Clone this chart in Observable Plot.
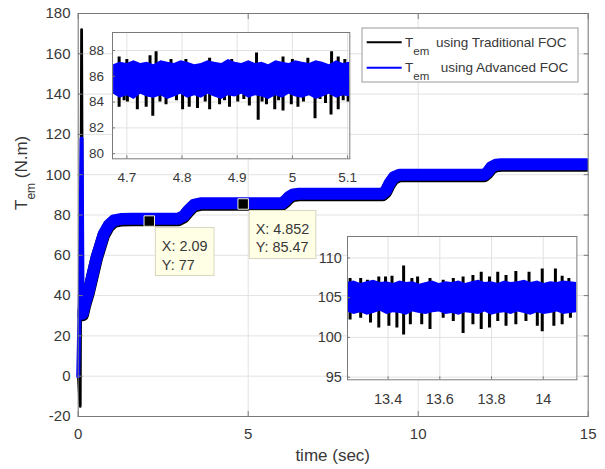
<!DOCTYPE html>
<html><head><meta charset="utf-8">
<script src="https://cdn.jsdelivr.net/npm/d3@7"></script>
<script src="https://cdn.jsdelivr.net/npm/@observablehq/plot@0.6"></script>
<style>
html,body{margin:0;padding:0;background:#fff;}
#wrap{position:relative;width:605px;height:469px;overflow:hidden;background:#fff;}
#wrap svg{position:absolute;}
</style></head><body><div id="wrap"></div>
<script>
// ---------- data ----------
const mainXTicks = [0, 5, 10, 15];
const mainYTicks = [-20, 0, 20, 40, 60, 80, 100, 120, 140, 160, 180];

// start-up transient
const tradStartT = [0, 0.06, 0.10, 0.13];
const tradStartV = [0, -15, 172, 31];
const advStartT  = [0, 0.05, 0.10, 0.13];
const advStartV  = [0, 40, 118, 31];

// torque trace after the transient (band centre)
const bodyT = [0.13, 0.2, 0.31, 0.54, 0.75, 0.9, 1.05, 1.25, 1.6, 2.95, 3.1, 3.25, 3.4, 3.6, 6.0, 6.1, 6.2, 6.32, 6.5, 8.95, 9.05, 9.15, 9.28, 9.45, 11.95, 12.05, 12.15, 12.28, 12.45, 15];
const tradBodyV = [30.4, 35.4, 41.7, 58.3, 69.9, 74.4, 76.7, 77.4, 77.6, 77.6, 78.9, 81.9, 84.4, 85.2, 85.2, 86.6, 88.4, 89.6, 89.9, 89.9, 91.4, 94.9, 98.1, 99.4, 99.4, 100.9, 103.2, 104.3, 104.6, 104.6];
const advBodyV  = [31, 36, 42.3, 58.9, 70.5, 75, 77.3, 78, 78.2, 78.2, 79.5, 82.5, 85, 85.8, 85.8, 87.2, 89, 90.2, 90.5, 90.5, 92, 95.5, 98.7, 100, 100, 101.5, 103.8, 104.9, 105.2, 105.2];

// data tips
const tipX = [2.09, 4.852];
const tipY = [77, 85.47];

// legend
const legendNames = ["using Traditional FOC", "using Advanced FOC"];

// inset 1 (4.67 .. 5.10 s)
const in1XTicks = [4.7, 4.8, 4.9, 5, 5.1];
const in1YTicks = [80, 82, 84, 86, 88];
const in1T = [4.676, 4.688, 4.700, 4.713, 4.725, 4.737, 4.749, 4.762, 4.774, 4.786, 4.798, 4.810, 4.823, 4.835, 4.847, 4.859, 4.872, 4.884, 4.896, 4.908, 4.921, 4.933, 4.945, 4.957, 4.970, 4.982, 4.994, 5.006, 5.018, 5.031, 5.043, 5.055, 5.067, 5.080, 5.092, 5.104];
const in1AdvHi = [86.9, 87.1, 87.0, 87.2, 87.0, 87.1, 86.9, 87.2, 87.1, 87.0, 87.2, 87.1, 86.9, 87.0, 87.2, 87.1, 87.0, 87.3, 87.1, 87.0, 87.2, 87.0, 87.1, 86.9, 87.2, 87.1, 87.0, 87.2, 87.1, 87.0, 87.2, 87.1, 86.9, 87.2, 87.0, 87.1];
const in1AdvLo = [84.6, 84.3, 84.5, 84.2, 84.6, 84.4, 84.3, 84.5, 84.2, 84.4, 84.6, 84.3, 84.5, 84.3, 84.6, 84.4, 84.2, 84.5, 84.4, 84.6, 84.3, 84.5, 84.4, 84.2, 84.5, 84.3, 84.6, 84.4, 84.3, 84.5, 84.2, 84.4, 84.6, 84.3, 84.5, 84.4];
const in1TradT = [4.686, 4.686, 4.701, 4.719, 4.735, 4.742, 4.747, 4.753, 4.771, 4.801, 4.807, 4.813, 4.828, 4.850, 4.850, 4.868, 4.886, 4.901, 4.922, 4.935, 4.938, 4.953, 4.968, 4.983, 4.983, 4.998, 5.010, 5.028, 5.041, 5.070, 5.071, 5.083, 5.083, 5.101,
                  4.695, 4.760, 4.790, 4.842, 4.877, 4.912, 4.945, 4.975, 5.020, 5.050, 5.060, 5.092, 4.700, 4.780, 4.890, 5.000, 5.095];
const in1TradV = [83.6, 87.5, 84.0, 83.4, 83.6, 87.6, 82.9, 87.9, 83.8, 83.4, 87.3, 83.6, 83.5, 83.4, 87.4, 83.8, 83.6, 84.0, 83.7, 87.8, 82.6, 83.8, 83.4, 83.3, 87.5, 83.8, 83.6, 87.4, 82.7, 83.0, 87.9, 83.4, 87.5, 84.0,
                  84.1, 84.0, 84.1, 84.0, 84.1, 84.2, 84.0, 84.1, 84.0, 84.2, 83.9, 84.1, 87.3, 87.3, 87.3, 87.3, 87.3];

// inset 2 (13.24 .. 14.13 s)
const in2XTicks = [13.4, 13.6, 13.8, 14];
const in2YTicks = [95, 100, 105, 110];
const in2T = [13.243, 13.268, 13.294, 13.319, 13.344, 13.370, 13.395, 13.420, 13.446, 13.471, 13.496, 13.522, 13.547, 13.572, 13.598, 13.623, 13.648, 13.674, 13.699, 13.724, 13.750, 13.775, 13.800, 13.826, 13.851, 13.876, 13.902, 13.927, 13.952, 13.978, 14.003, 14.028, 14.054, 14.079, 14.104, 14.130];
const in2AdvHi = [106.9, 107.1, 106.8, 107.0, 107.2, 106.9, 107.0, 106.8, 107.1, 106.9, 107.0, 106.7, 106.9, 107.1, 106.8, 107.0, 106.9, 107.1, 106.8, 107.0, 107.2, 106.9, 107.0, 106.8, 107.1, 106.9, 107.0, 107.2, 106.9, 107.1, 106.8, 107.0, 106.9, 107.1, 107.0, 106.9];
const in2AdvLo = [103.2, 102.9, 103.1, 102.8, 103.0, 103.3, 102.9, 103.1, 103.0, 102.8, 103.2, 103.0, 102.9, 103.1, 103.2, 102.9, 103.0, 102.8, 103.1, 103.0, 102.9, 103.2, 102.8, 103.0, 103.1, 102.9, 103.2, 103.0, 102.8, 103.1, 102.9, 103.0, 103.2, 102.9, 103.0, 103.1];
const in2TradT = [13.253, 13.294, 13.320, 13.364, 13.390, 13.415, 13.460, 13.492, 13.514, 13.562, 13.613, 13.652, 13.690, 13.728, 13.760, 13.792, 13.824, 13.856, 13.894, 13.945, 13.996, 14.047, 14.073, 14.099,
                  13.253, 13.294, 13.332, 13.364, 13.403, 13.434, 13.460, 13.486, 13.530, 13.562, 13.613, 13.652, 13.690, 13.728, 13.760, 13.792, 13.824, 13.856, 13.894, 13.933, 13.977, 13.996, 14.041, 14.073, 14.105];
const in2TradV = [107.4, 107.4, 107.2, 107.6, 107.6, 107.7, 109.0, 107.4, 107.6, 107.4, 107.2, 107.4, 107.6, 107.8, 108.2, 107.6, 108.2, 107.8, 108.3, 108.2, 108.6, 108.6, 107.7, 107.4,
                  102.2, 102.4, 101.8, 101.2, 101.4, 101.2, 100.3, 101.6, 101.6, 101.0, 102.4, 102.0, 100.5, 101.6, 101.0, 101.2, 102.0, 101.4, 101.6, 102.0, 101.4, 100.7, 101.4, 101.6, 102.4];

// ---------- style ----------
const FONT = '"Liberation Sans", Arial, Helvetica, sans-serif';
const TXT = "#383838";
const FRAME = "#7a7a7a";
const GRID = "#e2e2e2";
const BLUE = "#0000ff";

const zipTV = (t, v) => t.map((d, i) => ({t: d, v: v[i]}));
const tradStart = zipTV(tradStartT, tradStartV);
const advStart = zipTV(advStartT, advStartV);
const tradBody = zipTV(bodyT, tradBodyV);
const advBody = zipTV(bodyT, advBodyV);
const tips = tipX.map((x, i) => ({x, y: tipY[i]}));
const in1Band = in1T.map((t, i) => ({t, hi: in1AdvHi[i], lo: in1AdvLo[i]}));
const in1Spk = zipTV(in1TradT, in1TradV);
const in2Band = in2T.map((t, i) => ({t, hi: in2AdvHi[i], lo: in2AdvLo[i]}));
const in2Spk = zipTV(in2TradT, in2TradV);

const wrap = document.getElementById("wrap");

// ---------- main axes ----------
const main = Plot.plot({
  width: 605, height: 469,
  marginLeft: 77.7, marginRight: 17.3, marginTop: 13, marginBottom: 53,
  style: {fontFamily: FONT, fontSize: "15px", color: TXT, background: "transparent", overflow: "visible"},
  x: {domain: [0, 15], label: null},
  y: {domain: [-20, 180], label: null},
  marks: [
    Plot.frame({fill: "white", stroke: null}),
    Plot.gridX(mainXTicks, {stroke: GRID, strokeOpacity: 1}),
    Plot.gridY(mainYTicks, {stroke: GRID, strokeOpacity: 1}),
    Plot.line(tradStart, {x: "t", y: "v", stroke: "black", strokeWidth: 2.8}),
    Plot.line(tradBody, {x: "t", y: "v", stroke: "black", strokeWidth: 12.6, strokeLinejoin: "round", clip: true}),
    Plot.line(advStart, {x: "t", y: "v", stroke: BLUE, strokeWidth: 4}),
    Plot.line(advBody, {x: "t", y: "v", stroke: BLUE, strokeWidth: 12, strokeLinejoin: "round", clip: true}),
    Plot.dot(tips, {x: "x", y: "y", symbol: "square", r: 5.9, fill: "black", stroke: "#f3f0d8", strokeWidth: 1}),
    Plot.frame({stroke: FRAME}),
    Plot.axisX(mainXTicks, {anchor: "bottom", tickSize: -5, tickPadding: 16.6, stroke: FRAME, tickFormat: d => String(d), label: null}),
    Plot.axisX(mainXTicks, {anchor: "top", tickSize: -5, stroke: FRAME, tickFormat: () => "", label: null}),
    Plot.axisY(mainYTicks, {anchor: "left", tickSize: -5, tickPadding: 12.7, stroke: FRAME, tickFormat: d => String(d), label: null}),
    Plot.axisY(mainYTicks, {anchor: "right", tickSize: -5, stroke: FRAME, tickFormat: () => "", label: null})
  ]
});
main.style.left = "0px"; main.style.top = "0px";
wrap.appendChild(main);

const svg = d3.select(main);
const X = main.scale("x"), Y = main.scale("y");

// axis labels
svg.append("text").attr("x", 332.7).attr("y", 461).attr("text-anchor", "middle")
  .attr("font-family", FONT).attr("font-size", 17).attr("fill", TXT).text("time (sec)");
const yl = svg.append("text").attr("transform", "translate(27,210) rotate(-90)")
  .attr("text-anchor", "start")
  .attr("font-family", FONT).attr("font-size", 17).attr("fill", TXT);
yl.append("tspan").text("T");
yl.append("tspan").attr("font-size", 12).attr("dy", 8).text("em");
yl.append("tspan").attr("dy", -8).text(" (N.m)");

// data tips
tips.forEach(d => {
  const px = X.apply(d.x), py = Y.apply(d.y);
  const g = svg.append("g").attr("font-family", FONT).attr("font-size", 14.4).attr("fill", TXT).attr("text-anchor", "start");
  const rect = g.append("rect").attr("fill", "#ffffe6").attr("stroke", "#d8d6c0").attr("stroke-width", 1);
  const bx = px + 6.6, by = py + 7;
  const t1 = g.append("text").attr("x", bx + 6.5).attr("y", by + 23.4).text("X: " + d.x);
  const t2 = g.append("text").attr("x", bx + 6.5).attr("y", by + 42).text("Y: " + d.y);
  const w = Math.max(t1.node().getComputedTextLength(), t2.node().getComputedTextLength());
  rect.attr("x", bx).attr("y", by).attr("width", w + 13).attr("height", 48);
});

// legend
const lg = svg.append("g").attr("font-family", FONT).attr("fill", TXT).attr("text-anchor", "start");
lg.append("rect").attr("x", 362).attr("y", 28).attr("width", 216).attr("height", 54)
  .attr("fill", "white").attr("stroke", "#9a9a9a").attr("stroke-width", 1);
[["black", 42.3, 46.7, 436], [BLUE, 67.7, 71.7, 440.7]].forEach(([c, ly, base, tx], i) => {
  lg.append("line").attr("x1", 366.7).attr("x2", 401.7).attr("y1", ly).attr("y2", ly)
    .attr("stroke", c).attr("stroke-width", 2);
  const t = lg.append("text").attr("x", 405).attr("y", base).attr("font-size", 13.5);
  t.append("tspan").text("T");
  t.append("tspan").attr("font-size", 11.5).attr("dy", 8).text("em");
  lg.append("text").attr("x", tx).attr("y", base).attr("font-size", 13.5).text(legendNames[i]);
});

// ---------- inset 1 ----------
const in1 = Plot.plot({
  width: 271.3, height: 154.3,
  marginLeft: 32, marginRight: 2, marginTop: 2, marginBottom: 26,
  style: {fontFamily: FONT, fontSize: "13.5px", color: TXT, background: "transparent", overflow: "visible"},
  x: {domain: [4.674, 5.104], label: null},
  y: {domain: [79.6, 89.4], label: null},
  marks: [
    Plot.frame({fill: "white", stroke: null}),
    Plot.gridX(in1XTicks, {stroke: GRID, strokeOpacity: 1}),
    Plot.gridY(in1YTicks, {stroke: GRID, strokeOpacity: 1}),
    Plot.ruleX(in1Spk, {x: "t", y1: 85.8, y2: "v", stroke: "black", strokeWidth: 3, clip: true}),
    Plot.areaY(in1Band, {x: "t", y1: "lo", y2: "hi", fill: BLUE, clip: true}),
    Plot.frame({stroke: FRAME}),
    Plot.axisX(in1XTicks, {anchor: "bottom", tickSize: -3, tickPadding: 16.2, stroke: FRAME, tickFormat: d => String(d), label: null}),
    Plot.axisY(in1YTicks, {anchor: "left", tickSize: -3, tickPadding: 11.4, stroke: FRAME, tickFormat: d => String(d), label: null})
  ]
});
in1.style.left = "79.7px"; in1.style.top = "29.7px";
wrap.appendChild(in1);

// ---------- inset 2 ----------
const in2 = Plot.plot({
  width: 271.4, height: 173.3,
  marginLeft: 40, marginRight: 2, marginTop: 2, marginBottom: 28,
  style: {fontFamily: FONT, fontSize: "14.5px", color: TXT, background: "transparent", overflow: "visible"},
  x: {domain: [13.243, 14.13], label: null},
  y: {domain: [94.67, 112.7], label: null},
  marks: [
    Plot.frame({fill: "white", stroke: null}),
    Plot.gridX(in2XTicks, {stroke: GRID, strokeOpacity: 1}),
    Plot.gridY(in2YTicks, {stroke: GRID, strokeOpacity: 1}),
    Plot.ruleX(in2Spk, {x: "t", y1: 105, y2: "v", stroke: "black", strokeWidth: 3, clip: true}),
    Plot.areaY(in2Band, {x: "t", y1: "lo", y2: "hi", fill: BLUE, clip: true}),
    Plot.frame({stroke: FRAME}),
    Plot.axisX(in2XTicks, {anchor: "bottom", tickSize: -3, tickPadding: 16.5, stroke: FRAME, tickFormat: d => String(d), label: null}),
    Plot.axisY(in2YTicks, {anchor: "left", tickSize: -3, tickPadding: 8.6, stroke: FRAME, tickFormat: d => String(d), label: null})
  ]
});
in2.style.left = "307.3px"; in2.style.top = "234px";
wrap.appendChild(in2);
</script></body></html>
